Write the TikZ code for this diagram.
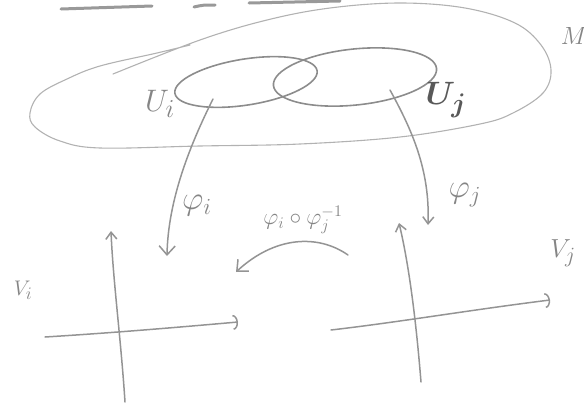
\documentclass[tikz,border=0pt]{standalone}
\usetikzlibrary{arrows.meta,shapes.geometric}
\begin{document}
\begin{tikzpicture}[x=1pt,y=-1pt,
  pencil/.style={draw=black!42, line width=1.5pt, line cap=round, line join=round},
  faint/.style={draw=black!30, line width=1.1pt, line cap=round},
  ulmark/.style={draw=black!40, line width=3pt, line cap=round},
  lbl/.style={text=black!48, inner sep=0pt, transform shape},
  vee/.style={-{Straight Barb[length=9pt,width=16pt]}},
  smallvee/.style={-{Straight Barb[length=7pt,width=11pt]}},
  arcend/.style={-{Arc Barb[length=5pt,width=15pt]}},
  region/.style={ellipse, draw=black!45, line width=1.6pt, inner sep=0pt}
]
\useasboundingbox (0,0) rectangle (584,407);

% cut-off underlines at the top
\draw[ulmark] (61,9) -- (152,6);
\draw[ulmark] (194,7) .. controls (203,5) .. (215,5);
\draw[ulmark] (249,3) -- (340,1);

% manifold M
\draw[faint] plot[smooth, tension=0.6] coordinates {(113,74) (200,40) (267,20) (330,8) (400,3) (465,8) (515,23) (541,45) (551,70) (543,93) (513,113) (480,124) (400,137) (300,144) (200,146) (100,148) (60,141) (35,127) (30,113) (40,94) (67,79) (100,66) (157,53) (190,45)};
\node[lbl, font=\Huge] (M) at (574,36) {$M$};

% open sets
\node[region, minimum width=144pt, minimum height=46pt, rotate=9] (Ui) at (246,82) {};
\node[region, minimum width=164pt, minimum height=56pt, rotate=6] (Uj) at (355,77) {};
\node[lbl, font=\Huge, scale=1.25] (Uilab) at (160,104) {$U_i$};
\node[lbl, text=black!65, font=\Huge\boldmath, scale=1.3] (Ujlab) at (446,100) {$U_j$};

% charts
\coordinate (pis) at (213,99);
\coordinate (pie) at (167,256);
\coordinate (pjs) at (390,90);
\coordinate (pje) at (428,225);
\draw[pencil, vee] (pis) .. controls (190,145) and (168,200) .. (pie);
\draw[pencil, smallvee] (pjs) .. controls (412,130) and (430,170) .. (pje);
\node[lbl, font=\huge, scale=1.6] (phii) at (197,206) {$\varphi_i$};
\node[lbl, font=\huge, scale=1.6] (phij) at (465,195) {$\varphi_j$};

% transition map
\coordinate (ts) at (348,255);
\coordinate (te) at (236,272);
\draw[pencil, vee] (ts) .. controls (318,234) and (275,236) .. (te);
\node[lbl, font=\LARGE, scale=1.35] (trans) at (303,220) {$\varphi_i\circ\varphi_j^{-1}$};

% left chart space V_i
\coordinate (lvb) at (125,402);
\coordinate (lvt) at (111,231);
\coordinate (lhl) at (45,337);
\coordinate (lhr) at (238,322);
\draw[pencil, smallvee] (lvb) .. controls (121,340) and (113,280) .. (lvt);
\draw[pencil, arcend] (lhl) .. controls (110,333) and (170,328) .. (lhr);
\node[lbl, font=\Huge, scale=0.85] (Vi) at (23,290) {$V_i$};

% right chart space V_j
\coordinate (rvb) at (421,382);
\coordinate (rvt) at (399,223);
\coordinate (rhl) at (331,330);
\coordinate (rhr) at (550,300);
\draw[pencil, smallvee] (rvb) .. controls (416,320) and (409,265) .. (rvt);
\draw[pencil, arcend] (rhl) .. controls (400,322) and (470,310) .. (rhr);
\node[lbl, font=\Huge, scale=1.05] (Vj) at (563,253) {$V_j$};
\end{tikzpicture}
\end{document}
